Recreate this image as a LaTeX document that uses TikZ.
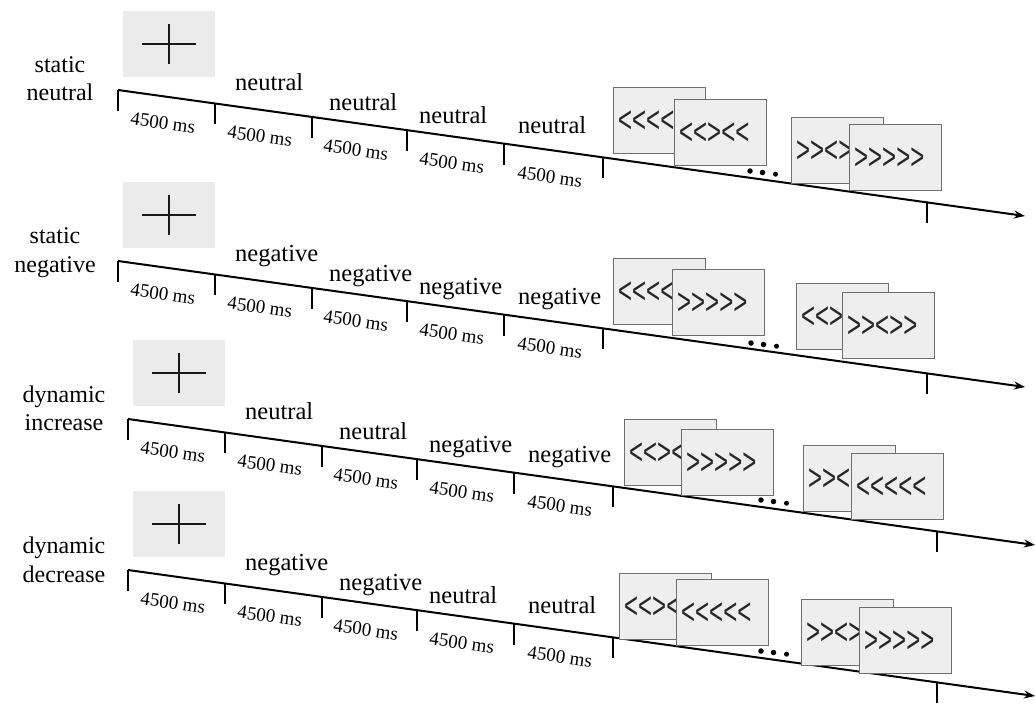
\documentclass[tikz,border=0pt]{standalone}
\usepackage{fontspec}
\setmainfont{Liberation Serif}
\newfontfamily\chevfont{Liberation Sans}
\usepackage{graphicx}
\usetikzlibrary{arrows.meta,calc}
\definecolor{fixgray}{HTML}{EBEBEB}
\definecolor{stimgray}{HTML}{EEEEEE}
\definecolor{stimedge}{HTML}{6E6E6E}
\newcommand\chevL{<\kern0pt}
\newcommand\chevR{>\kern0pt}
\tikzset{
  tl/.style={line width=2pt, -{Stealth[length=11pt,width=8pt]}},
  tickmark/.style={line width=2pt},
  dur/.style={font=\fontsize{19}{21}\selectfont, inner sep=0pt, rotate=-7.92},
  cond/.style={font=\fontsize{24.5}{28}\selectfont, inner sep=0pt, anchor=base west},
  rowlab/.style={font=\fontsize{24}{28}\selectfont, inner sep=0pt, anchor=base},
  fixbox/.style={fill=fixgray, minimum width=92pt, minimum height=66pt, inner sep=0pt},
  crossline/.style={line width=2pt, draw=black!90},
  stim/.style={draw=stimedge, fill=stimgray, line width=1.3pt, minimum width=92pt, minimum height=66pt, inner sep=0pt, anchor=north west},
  chev/.style={font=\chevfont\fontsize{24}{24}\selectfont, inner sep=0pt, anchor=west, text=black!85},
  dot/.style={circle, fill=black, inner sep=0pt, minimum size=5.5pt},
}
\newcommand\trialrow[7]{%
\begin{scope}[shift={(#2,#3)}]
  \coordinate (#1-s) at (0,0);
  \coordinate (#1-e) at (907,126);
  \draw[tl] (#1-s) -- (#1-e);
  \foreach \t [count=\i] in {0,97,194,289,386,485,809}
    \draw[tickmark] (\t,{\t*0.13892}) coordinate (#1-t\i) -- ++(0,21);
  \foreach \a/\b [count=\i] in {0/97,97/194,194/289,289/386,386/485}
    \node[dur] (#1-d\i) at ({(\a+\b)/2-3.6},{(\a+\b)/2*0.13892+26}) {4500 ms};
  \node[cond] (#1-c1) at (117,0) {#4};
  \node[cond] (#1-c2) at (211,20) {#5};
  \node[cond] (#1-c3) at (301,33) {#6};
  \node[cond] (#1-c4) at (400,43) {#7};
  \node[fixbox] (#1-fix) at (51,-46) {};
  \draw[crossline] ($(#1-fix.center)+(-27,0)$) -- ($(#1-fix.center)+(27,0)$);
  \draw[crossline] ($(#1-fix.center)+(0,-20)$) -- ($(#1-fix.center)+(0,20)$);
\end{scope}}
\newcommand\stimbox[4]{%
  \node[stim] (#1) at (#2,#3) {};
  \node[chev] (#1-txt) at ($(#1.west)+(5,1)$) {\scalebox{1}[1.55]{#4}};}
\newcommand\dotrow[3]{%
  \node[dot] (#1-1) at (#2,#3) {};
  \node[dot] (#1-2) at ({#2+12.5},{#3+1.5}) {};
  \node[dot, minimum size=5pt] (#1-3) at ({#2+25.5},{#3+3.2}) {};}
\begin{document}
\begin{tikzpicture}[x=1pt,y=-1pt]
\useasboundingbox (0,0) rectangle (1035,704);

% row 1
\trialrow{r1}{118}{90}{neutral}{neutral}{neutral}{neutral}
\node[rowlab] (r1-l1) at (60,72) {static};
\node[rowlab] (r1-l2) at (60,100) {neutral};
\stimbox{r1-a}{613}{87}{\chevL\chevL\chevL\chevL\chevL}
\stimbox{r1-b}{674}{99}{\chevL\chevL\chevR\chevL\chevL}
\dotrow{r1-dots}{750}{171}
\stimbox{r1-c}{791}{117}{\chevR\chevR\chevL\chevR\chevR}
\stimbox{r1-d}{849}{124}{\chevR\chevR\chevR\chevR\chevR}

% row 2
\trialrow{r2}{118}{261}{negative}{negative}{negative}{negative}
\node[rowlab] (r2-l1) at (55,243) {static};
\node[rowlab] (r2-l2) at (55,272) {negative};
\stimbox{r2-a}{613}{258}{\chevL\chevL\chevL\chevL\chevL}
\stimbox{r2-b}{672}{269}{\chevR\chevR\chevR\chevR\chevR}
\dotrow{r2-dots}{751}{343}
\stimbox{r2-c}{796}{283}{\chevL\chevL\chevR\chevL\chevL}
\stimbox{r2-d}{842}{292}{\chevR\chevR\chevL\chevR\chevR}

% row 3
\trialrow{r3}{128}{419}{neutral}{neutral}{negative}{negative}
\node[rowlab] (r3-l1) at (64,402) {dynamic};
\node[rowlab] (r3-l2) at (64,430) {increase};
\stimbox{r3-a}{624}{419}{\chevL\chevL\chevR\chevL\chevL}
\stimbox{r3-b}{681}{429}{\chevR\chevR\chevR\chevR\chevR}
\dotrow{r3-dots}{761}{500}
\stimbox{r3-c}{803}{445}{\chevR\chevR\chevL\chevR\chevR}
\stimbox{r3-d}{851}{453}{\chevL\chevL\chevL\chevL\chevL}

% row 4
\trialrow{r4}{128}{570}{negative}{negative}{neutral}{neutral}
\node[rowlab] (r4-l1) at (64,553) {dynamic};
\node[rowlab] (r4-l2) at (64,582) {decrease};
\stimbox{r4-a}{619}{573}{\chevL\chevL\chevR\chevL\chevL}
\stimbox{r4-b}{676}{579}{\chevL\chevL\chevL\chevL\chevL}
\dotrow{r4-dots}{761}{651}
\stimbox{r4-c}{801}{599}{\chevR\chevR\chevL\chevR\chevR}
\stimbox{r4-d}{859}{607}{\chevR\chevR\chevR\chevR\chevR}
\end{tikzpicture}
\end{document}
